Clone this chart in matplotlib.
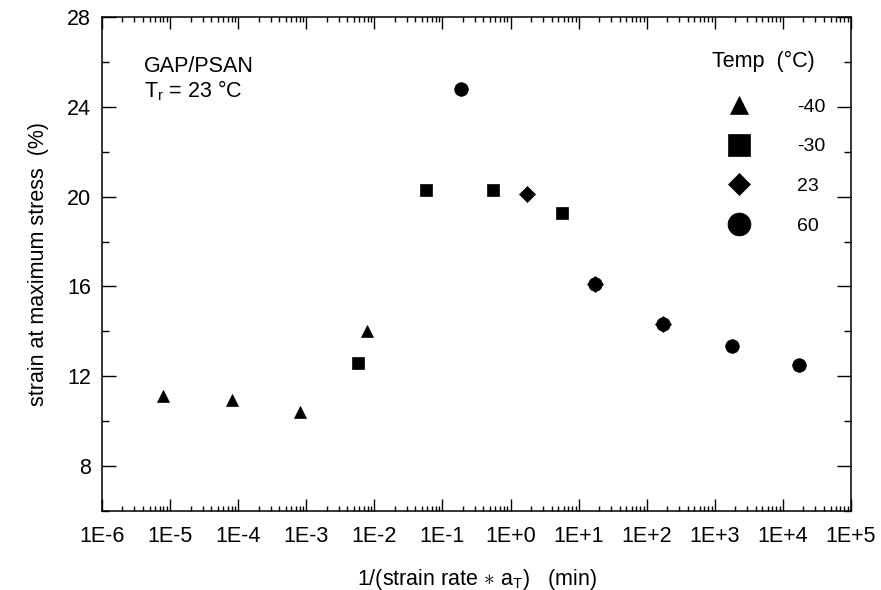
import matplotlib
matplotlib.use('Agg')
import matplotlib.pyplot as plt
from matplotlib.lines import Line2D
from matplotlib.ticker import LogLocator, MultipleLocator, NullFormatter

# ---------------- DATA ----------------
temps = ['-40', '-30', '23', '60']

x_m40 = [7.8e-6, 8.1e-5, 8.0e-4, 7.9e-3]
y_m40 = [11.1, 10.95, 10.4, 14.0]

x_m30 = [5.7e-3, 0.057, 0.56, 5.65]
y_m30 = [12.6, 20.3, 20.3, 19.25]

x_23 = [1.77, 17.3, 174]
y_23 = [20.1, 16.1, 14.35]

x_60 = [0.185, 17.3, 174, 1760, 17400]
y_60 = [24.8, 16.1, 14.35, 13.35, 12.5]

xtick_vals = [1e-6, 1e-5, 1e-4, 1e-3, 1e-2, 1e-1, 1e0, 1e1, 1e2, 1e3, 1e4, 1e5]
xtick_labels = ['1E-6', '1E-5', '1E-4', '1E-3', '1E-2', '1E-1',
                '1E+0', '1E+1', '1E+2', '1E+3', '1E+4', '1E+5']
ytick_vals = [8, 12, 16, 20, 24, 28]

# ---------------- STYLE ----------------
plt.rcParams['font.family'] = ['Liberation Sans', 'DejaVu Sans']
plt.rcParams['mathtext.fontset'] = 'custom'
plt.rcParams['mathtext.rm'] = 'Liberation Sans'
plt.rcParams['mathtext.it'] = 'Liberation Sans:italic'

fig = plt.figure(figsize=(8.81, 5.90), dpi=100)
ax = fig.add_axes([102 / 881, 1 - 511 / 590, 749 / 881, 494 / 590])

mk = dict(color='black', linestyle='none', markeredgewidth=0.5)

# diamonds first so circles sit on top of them
ax.plot(x_m40, y_m40, marker='^', markersize=8.3, **mk)
ax.plot(x_m30, y_m30, marker='s', markersize=9.0, **mk)
ax.plot(x_23, y_23, marker='D', markersize=7.8, **mk)
ax.plot(x_60, y_60, marker='o', markersize=9.8, **mk)

# ---------------- AXES ----------------
ax.set_xscale('log')
ax.set_xlim(1e-6, 1e5)
ax.set_ylim(6, 28)

ax.set_xticks(xtick_vals)
ax.set_xticklabels(xtick_labels)
ax.xaxis.set_minor_locator(LogLocator(base=10, subs=range(2, 10), numticks=50))
ax.xaxis.set_minor_formatter(NullFormatter())

ax.set_yticks(ytick_vals)
ax.yaxis.set_minor_locator(MultipleLocator(2))

ax.tick_params(axis='both', which='both', direction='in',
               top=True, right=True, labelsize=15.5, width=1.0)
ax.tick_params(axis='x', which='major', length=8.5, pad=11)
ax.tick_params(axis='x', which='minor', length=3.5)
ax.tick_params(axis='y', which='major', length=10, pad=8)
ax.tick_params(axis='y', which='minor', length=5)

for sp in ax.spines.values():
    sp.set_linewidth(1.1)

ax.set_xlabel(r'1/(strain rate $\ast$ a$_\mathrm{T}$)   (min)', fontsize=15.5, labelpad=14)
ax.set_ylabel('strain at maximum stress  (%)', fontsize=15.5, labelpad=13)

# ---------------- ANNOTATIONS ----------------
ax.text(0.056, 0.921, 'GAP/PSAN\n' + r'T$_\mathrm{r}$ = 23 $\degree$C',
        transform=ax.transAxes, fontsize=15.5, va='top', linespacing=1.05)

ax.text(0.8825, 0.899, 'Temp  (°C)', transform=ax.transAxes, fontsize=15.5,
        ha='center', va='baseline')

handles = [
    Line2D([], [], marker='^', markersize=13.5, **mk),
    Line2D([], [], marker='s', markersize=16.5, **mk),
    Line2D([], [], marker='D', markersize=11.5, **mk),
    Line2D([], [], marker='o', markersize=16.5, **mk),
]
ax.legend(handles, temps, loc='upper left', bbox_to_anchor=(0.825, 0.836),
          frameon=False, fontsize=14, borderpad=0, borderaxespad=0,
          handlelength=2.0, handletextpad=1.95, labelspacing=1.14)

plt.savefig('out.png', dpi=100)
